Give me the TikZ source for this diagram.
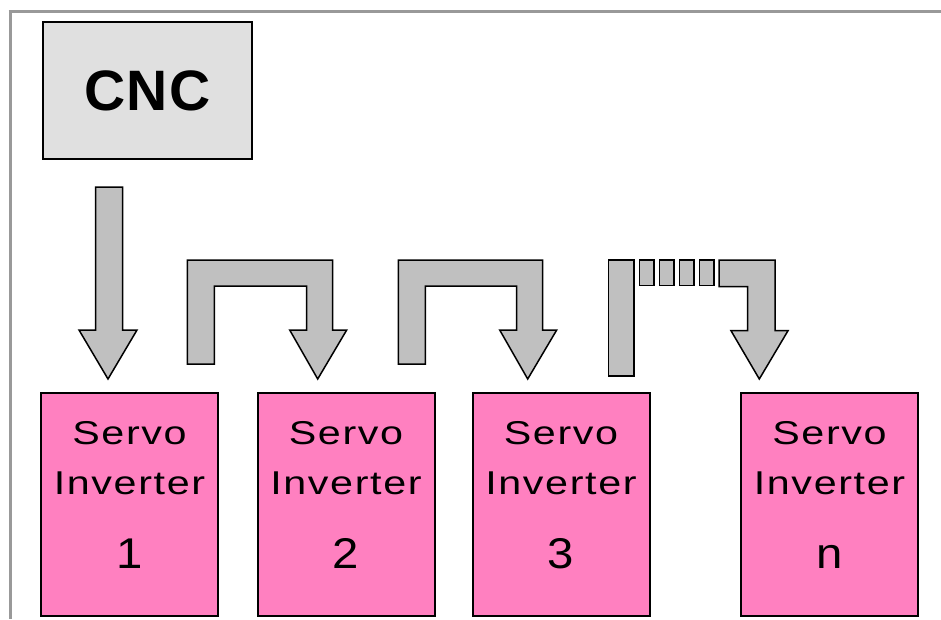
\documentclass[tikz,border=0pt]{standalone}
\usepackage{fontspec}
\setmainfont{Liberation Sans}
\newfontfamily\servofont[LetterSpace=5,FakeStretch=1.25]{Liberation Sans}
\newfontfamily\numfont[FakeStretch=1.1]{Liberation Sans}
\newfontfamily\cncfont[LetterSpace=3]{Liberation Sans Bold}
\usepackage{tikz}
\usetikzlibrary{positioning}

\definecolor{cncgray}{HTML}{E0E0E0}
\definecolor{servopink}{HTML}{FF80C0}
\definecolor{arrowgray}{HTML}{C0C0C0}
\definecolor{framegray}{HTML}{999999}

\newcommand{\uarrow}[2]{%
\draw[blockarrow] (#1,364) -- (#1,260) -- (#2+26,260) -- (#2+26,330)
-- (#2+40,330) -- (#2+11,379) -- (#2-17,330) -- (#2,330) -- (#2,286)
-- (#1+27,286) -- (#1+27,364) -- cycle;}

\begin{document}
\begin{tikzpicture}[
x=1pt, y=-1pt,
cncbox/.style={
draw,
line width=2pt,
fill=cncgray,
minimum width=209pt,
minimum height=137pt,
font=\cncfont\fontsize{57}{64}\selectfont
},
servo/.style={
draw,
line width=2pt,
fill=servopink,
minimum width=177pt,
minimum height=223pt
},
servotxt/.style={
anchor=base,
inner sep=0pt,
font=\servofont\fontsize{33}{40}\selectfont
},
numtxt/.style={
anchor=base,
inner sep=0pt,
font=\numfont\fontsize{43}{50}\selectfont
},
blockarrow/.style={
draw,
line width=1.5pt,
line join=miter,
fill=arrowgray
},
frameline/.style={
draw=framegray,
line width=3pt
}
]

\useasboundingbox (0,0) rectangle (941,619);

\draw[frameline] (8.5,11) -- (941,11);
\draw[frameline] (10,11) -- (10,619);

\node[cncbox] (cnc) at (147.5,90.5) {CNC};

\foreach \nm/\cx/\num in {inv1/129.5/1, inv2/346/2, inv3/561/3, invn/829.5/n}{
\node[servo] (\nm) at (\cx,504.5) {};
\node[servotxt] (\nm-a) at ([yshift=-52pt]\nm.north) {Servo};
\node[servotxt] (\nm-b) at ([yshift=-102pt]\nm.north) {Inverter};
\node[numtxt] (\nm-c) at ([yshift=-176pt]\nm.north) {\num};
}

\draw[blockarrow] (95.5,187) -- (122.5,187) -- (122.5,330) -- (137,330)
-- (108,379) -- (79,330) -- (95.5,330) -- cycle;

\uarrow{187.3}{306.7}
\uarrow{398.3}{516.7}

\draw[blockarrow] (608.3,260) rectangle (634,376);
\foreach \i in {0,...,3}{
\draw[blockarrow] (639.5+20*\i,260) rectangle (654+20*\i,285.7);
}
\draw[blockarrow] (719,260) -- (775,260) -- (775,330.7) -- (788,330.7)
-- (759.3,379) -- (731,330.7) -- (747.7,330.7) -- (747.7,286.7)
-- (719,286.7) -- cycle;

\end{tikzpicture}
\end{document}
